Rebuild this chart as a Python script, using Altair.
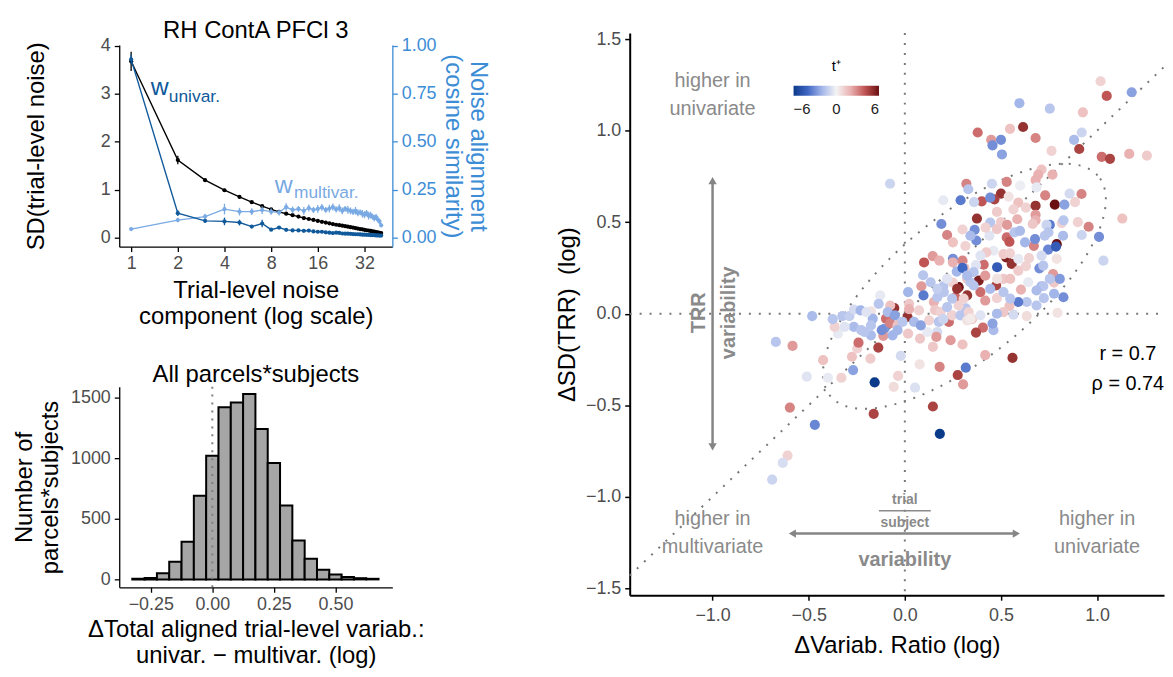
import altair as alt
import numpy as np
import pandas as pd

FONT = "Liberation Sans"
TICK_GRAY = "#4d4d4d"
ANN_GRAY = "#8a8a8a"
ARROW_GRAY = "#858585"
DARK_BLUE = "#10599b"
LIGHT_BLUE = "#7aaae3"
AXIS_BLUE = "#3d8dd6"

# ---------------- top-left panel: noise components ----------------
top_title = "RH ContA PFCl 3"
components = list(range(1, 42))
sd_noise = [3.68, 1.62, 1.20, 0.99, 0.85, 0.74, 0.66, 0.59, 0.54, 0.50,
            0.47, 0.44, 0.41, 0.39, 0.37, 0.35, 0.33, 0.315, 0.30, 0.285,
            0.27, 0.26, 0.25, 0.24, 0.23, 0.22, 0.21, 0.20, 0.19, 0.18,
            0.175, 0.165, 0.155, 0.15, 0.14, 0.13, 0.125, 0.115, 0.11, 0.10,
            0.095]
sd_noise_err = [0.20, 0.09, 0.03, 0.03, 0.025, 0.02, 0.02, 0.02, 0.015, 0.015,
                0.015, 0.012, 0.012, 0.012, 0.012, 0.012, 0.01, 0.01, 0.01, 0.01,
                0.01, 0.01, 0.01, 0.01, 0.01, 0.01, 0.01, 0.01, 0.01, 0.01,
                0.01, 0.01, 0.01, 0.01, 0.01, 0.01, 0.01, 0.01, 0.01, 0.01,
                0.01]
cos_univar = [0.93, 0.128, 0.088, 0.085, 0.079, 0.058, 0.074, 0.042, 0.053, 0.041,
              0.038, 0.038, 0.036, 0.037, 0.033, 0.031, 0.031, 0.028, 0.026, 0.024,
              0.026, 0.025, 0.022, 0.021, 0.021, 0.020, 0.019, 0.018, 0.018, 0.017,
              0.016, 0.016, 0.015, 0.015, 0.014, 0.014, 0.013, 0.012, 0.012, 0.011,
              0.011]
cos_univar_err = [0.025, 0.015, 0.010, 0.020, 0.015, 0.008, 0.020, 0.006, 0.008, 0.005,
                  0.005, 0.005, 0.005, 0.005, 0.005, 0.005, 0.004, 0.004, 0.004, 0.004,
                  0.004, 0.004, 0.004, 0.004, 0.004, 0.004, 0.004, 0.004, 0.004, 0.004,
                  0.004, 0.004, 0.004, 0.004, 0.004, 0.004, 0.004, 0.004, 0.004, 0.004,
                  0.004]
cos_multivar = [0.045, 0.092, 0.110, 0.149, 0.136, 0.136, 0.144, 0.136, 0.131, 0.160,
                0.145, 0.150, 0.140, 0.155, 0.145, 0.150, 0.158, 0.145, 0.152, 0.160,
                0.148, 0.155, 0.140, 0.150, 0.145, 0.140, 0.135, 0.140, 0.130, 0.132,
                0.125, 0.120, 0.128, 0.115, 0.118, 0.110, 0.102, 0.108, 0.095, 0.085,
                0.065]
cos_multivar_err = [0.004, 0.012, 0.015, 0.028, 0.020, 0.018, 0.020, 0.016, 0.015, 0.020,
                    0.018, 0.015, 0.020, 0.018, 0.016, 0.020, 0.018, 0.015, 0.020, 0.018,
                    0.016, 0.020, 0.018, 0.015, 0.020, 0.018, 0.016, 0.020, 0.018, 0.015,
                    0.020, 0.018, 0.016, 0.020, 0.018, 0.015, 0.018, 0.016, 0.015, 0.014,
                    0.012]

w_big_text = ["w", "w"]
w_big_k = [1.53, 9.65]
w_big_v = [2.98, 0.94]
w_big_series = ["univar", "multivar"]
w_sub_text = ["univar.", "multivar."]
w_sub_k = [1.75, 11.23]
w_sub_v = [2.84, 0.835]
w_sub_series = ["univar", "multivar"]

# ---------------- bottom-left panel: histogram ----------------
hist_title = "All parcels*subjects"
hist_center = [-0.30, -0.25, -0.20, -0.15, -0.10, -0.05, 0.00, 0.05, 0.10, 0.15,
               0.20, 0.25, 0.30, 0.35, 0.40, 0.45, 0.50, 0.55, 0.60, 0.65]
hist_count = [5, 12, 50, 145, 310, 690, 1020, 1420, 1460, 1530,
              1240, 960, 610, 320, 170, 80, 40, 20, 10, 5]
bin_width = 0.05

# ---------------- right panel: scatter ----------------
sx = [-0.077, 0.20, 0.29, 0.32, 0.33, 0.19, 0.22, 0.30, 0.25, 0.315,
      0.10, 0.145, 0.18, 0.25, 0.25, 0.30, 0.31, 0.27, 0.095, 0.086,
      0.28, 0.25, 0.20,
      0.596, 0.754, 1.018, 1.05, 1.18, 0.926, 0.379, 0.449, 0.456, 0.50,
      0.505, 0.547, 0.615, 0.68, 0.763, 0.92, 0.88, 0.907, 1.024, 1.067,
      1.167, 1.259, 1.131, 1.033, 1.01, 0.956, 0.90, 0.92, 0.857, 0.919,
      0.885, 0.711, 0.694, 0.68, 0.768, 0.53, 0.453, 0.60, 0.685, 0.50,
      0.466, 0.40, 0.444, 0.36, 0.54, 0.59, 0.63, 0.565, 0.73, 0.78,
      0.83, 0.68, 0.375, 0.479, 0.50, 0.585, 0.68, 0.68, 0.665, 0.754,
      0.737, 0.747, 0.816, 0.825, 0.532, 0.44, 0.363, 0.372, 0.53, 0.544,
      0.57, 0.671, 0.677, 0.745, 0.79, 0.786, 0.79, 0.646, 0.711, 0.527,
      0.556, 0.48, 0.513, 0.547, 0.461, 0.424, 0.41, 0.37, 0.30, 0.59,
      0.70, 0.642, 0.71, 0.771, 0.776, 0.806, 0.384, 0.475, 0.513, 0.418,
      0.604, 0.393,
      -0.482, -0.671, -0.584, -0.425, -0.51, -0.40, -0.33, -0.269, -0.275, -0.248,
      -0.179, -0.241, -0.138, -0.157, -0.021, -0.035, -0.058, 0.053, 0.077, 0.181,
      0.275, 0.303, 0.317, -0.162, 0.146, 0.182, -0.598, -0.468, -0.61, -0.635,
      -0.69, -0.348, -0.365, -0.375, -0.325, -0.288, -0.265, -0.227, -0.265, -0.23,
      -0.176, -0.128, -0.136, -0.167, -0.176, -0.21, -0.107, -0.112, -0.055, -0.076,
      -0.098, -0.076, -0.038, -0.038, -0.064, 0.014, 0.017, 0.097, 0.022, 0.022,
      0.074, 0.126, 0.079, 0.017, 0.117, 0.151, 0.157, 0.186, 0.169, 0.164,
      0.146, 0.229, 0.238, 0.30, 0.246, 0.22, 0.263, 0.272, 0.324, 0.289,
      0.324, 0.317, 0.28, 0.203, 0.169, -0.12,
      0.794, 0.825, 0.776, 0.72, 0.723, 0.685, 0.634, 0.59, 0.634, 0.565,
      0.544, 0.513, 0.479, 0.479, 0.418, 0.406, 0.37, 0.461, 0.456, 0.332,
      0.35, 0.418, 0.56,
      -0.089, -0.052, -0.012, 0.048, 0.083, 0.177, 0.20, 0.246, 0.306, 0.341,
      -0.176, -0.20, -0.313,
      0.324, 0.358, 0.393, 0.341, 0.444, 0.42, 0.479, 0.599, 0.625, 0.728,
      0.823, 0.72, 0.754, 0.548, 0.63, 0.59, 0.48,
      0.341, 0.134, 0.169, 0.324, 0.22,
      0.358, 0.444, 0.513, 0.548, 0.685, 0.393]
sy = [0.71, 0.62, 0.62, 0.71, 0.68, 0.49, 0.43, 0.46, 0.39, 0.37,
      0.28, 0.315, 0.29, 0.30, 0.28, 0.29, 0.25, 0.23, 0.21, 0.15,
      0.145, 0.17, 0.15,
      1.15, 1.12, 1.27, 1.19, 1.21, 1.10, 0.99, 0.95, 0.92, 0.95,
      0.87, 1.01, 1.02, 0.96, 0.89, 0.99, 0.95, 0.90, 0.857, 0.846,
      0.873, 0.864, 0.52, 0.29, 0.42, 0.475, 0.50, 0.43, 0.656, 0.654,
      0.61, 0.788, 0.76, 0.73, 0.76, 0.72, 0.71, 0.70, 0.69, 0.656,
      0.625, 0.614, 0.634, 0.61, 0.64, 0.607, 0.58, 0.57, 0.647, 0.596,
      0.596, 0.59, 0.52, 0.556, 0.50, 0.516, 0.54, 0.51, 0.49, 0.485,
      0.485, 0.444, 0.495, 0.51, 0.485, 0.426, 0.458, 0.40, 0.417, 0.393,
      0.444, 0.371, 0.408, 0.35, 0.38, 0.367, 0.30, 0.304, 0.317, 0.308,
      0.272, 0.254, 0.326, 0.33, 0.344, 0.335, 0.268, 0.265, 0.25, 0.235,
      0.248, 0.172, 0.15, 0.217, 0.17, 0.19, 0.181, 0.154, 0.19, 0.208,
      0.132, 0.118,
      -0.013, -0.154, -0.176, -0.254, -0.344, -0.35, -0.35, -0.308, -0.235, -0.19,
      -0.245, -0.158, -0.185, -0.375, -0.23, -0.34, -0.40, -0.404, -0.277, -0.29,
      -0.335, -0.386, -0.295, -0.547, -0.507, -0.656, -0.513, -0.607, -0.775, -0.815,
      -0.906, -0.109, -0.072, -0.03, -0.013, -0.013, -0.072, -0.09, 0.023, 0.018,
      0.013, 0.10, 0.054, -0.027, -0.118, -0.10, -0.082, -0.121, 0.031, 0.045,
      -0.027, -0.051, -0.063, -0.09, -0.118, -0.018, 0.118, 0.10, 0.054, 0.025,
      0.018, -0.036, -0.136, -0.109, -0.10, 0.064, 0.02, 0.009, -0.10, -0.127,
      -0.181, -0.045, -0.145, -0.168, -0.009, 0.036, 0.09, 0.136, 0.10, -0.009,
      -0.036, 0.03, 0.045, 0.118, 0.09, -0.09,
      0.005, 0.09, 0.109, 0.15, 0.085, 0.045, 0.064, 0.064, -0.013, -0.005,
      0.042, 0.009, 0.0, 0.085, 0.072, -0.076, -0.103, -0.09, -0.054, 0.009,
      -0.03, -0.226, -0.241,
      0.009, -0.009, -0.045, -0.045, -0.064, -0.045, -0.03, 0.082, 0.082, -0.027,
      -0.064, 0.009, -0.072,
      0.19, 0.227, 0.317, 0.426, 0.498, 0.47, 0.462, 0.453, 0.39, 0.426,
      0.426, 0.263, 0.19, 0.19, 0.26, 0.30, 0.19,
      0.172, 0.172, 0.136, 0.208, 0.19,
      0.154, 0.136, 0.118, 0.082, 0.127, -0.009]
st = [-1, -0.3, -3.5, 3, -1.5, -3, 3, 1, 1.5, 1,
      4, 2.5, 2, -3, 2, 3, 1.5, -2, -1.5, 2.5,
      6, 1, -1.5,
      -2, -1.5, 1, 4, -2.5, 1.5, 3.5, 2.5, -3, -3,
      -2.5, 1.5, 5, 3, 1, -1, -1.8, 4.5, 3.5, 4.5,
      2, 1.2, 1.5, -1, -3, 3, 1, -1, -0.8, 3,
      1, 1.5, 2, 2, 2, 3, -1, -0.2, -0.3, 5,
      4.5, 4, -3, -1, 0.5, 1.5, 1, 1, 3, 6,
      -2.5, 5, 5, 1.2, 1.2, 2, 2.5, 2, 1.3, -3.5,
      -1, -1.5, 1, -1.5, 2.5, -0.5, -3, -3, 3.5, 4,
      -1.5, 3, -3, -3.2, 6, -4.5, 0.5, 1, -0.8, 5.5,
      5, -4.5, 1.2, 1, -0.3, 1.2, 3.5, -0.5, -4, 1.2,
      -3, -0.3, -2, 2.5, 1.3, -2.7, 5.5, 4.5, 1.3, 2.5,
      2, 3.5,
      -1.8, -1.5, 2.5, 1.5, -0.5, -0.3, 1, -2.5, 1.5, 1,
      1.2, 3.5, 4.5, -6, -0.8, 1, 0.7, -0.6, 0.5, 3,
      4.5, 2.5, -3.5, 4.5, 4.5, -6, 3, -3.2, 1, -0.7,
      -1, -0.3, 1, -1.5, -1.5, -1.2, -1.8, -1.5, -0.8, -2,
      0.5, -0.3, -1.5, -2, -1.8, -1.5, -2.8, 2.5, 5, 1.5,
      3.5, 3, 1.5, -2, -2, 5, -2, -3.5, 1.3, 2,
      1, 1, 1.3, 1.3, -0.3, 2, 1.3, 1, -0.8, 2.5,
      1.3, 3.5, 2.5, 1.5, 1, -1.5, 3.5, 5, 5, -1.5,
      0.5, -1.5, 1, -1.5, -1.5, -3,
      0.5, -3, -2, -1.5, -1.5, -1.5, -1.5, -3.5, 0.7, -0.8,
      1.5, 1.3, -1.8, 1, 2.5, 3.5, 4.5, -1.8, -2.5, 1,
      1.2, 2, 5,
      -1.8, -2.5, -1.5, -1.8, -2.5, -1.5, -1.0, -1.5, 1.0, 0.3,
      -1.5, -0.5, -0.5,
      1.3, -1.5, -0.5, -1.8, -1.5, 1.0, 1.3, -1.8, -2.0, -1.5,
      -1.8, -1.5, -1.5, 1.5, 1.0, -0.3, 0.5,
      -1.5, -1.5, -1.2, -1.8, -0.5,
      -1.5, -1.8, -1.5, -1.5, -1.8, -0.5]

t_stops = [-6, -4, -2, 0, 2, 4, 6]
t_colors = ["#0a3a8a", "#3f67c4", "#a3b6ea", "#f4f4f4", "#e9b1b1", "#c05555", "#6b0f12"]

# confidence ellipse of the scatter
ell_center = [0.31, 0.15]
ell_axes = [0.92, 0.378]
ell_angle_deg = 41.2

# annotations (data coordinates)
gray_text = ["higher in", "univariate", "higher in", "multivariate", "higher in", "univariate"]
gray_x = [-1.0, -1.0, -1.0, -1.0, 1.0, 1.0]
gray_y = [1.272, 1.12, -1.12, -1.277, -1.12, -1.277]
stat_text = ["r = 0.7", "\u03c1 = 0.74"]
stat_x = [1.16, 1.16]
stat_y = [-0.223, -0.386]
frac_text = ["trial", "subject"]
frac_x = [0.0, 0.0]
frac_y = [-1.016, -1.141]
rot_text = ["TRR", "variability"]
rot_x = [-1.071, -0.912]
rot_y = [0.005, 0.005]
bottom_bold_text = ["variability"]
bottom_bold_x = [0.0]
bottom_bold_y = [-1.348]

v_arrow_x = -1.0
v_arrow_y = [-0.72, 0.72]
h_arrow_y = -1.201
h_arrow_x = [-0.58, 0.575]
head_x = [-1.0, -1.0, -0.585, 0.58]
head_y = [0.727, -0.727, -1.201, -1.201]
head_shape = ["triangle-up", "triangle-down", "triangle-left", "triangle-right"]
frac_line_x = [-0.135, 0.135]
frac_line_y = -1.076

# =================== build top-left chart ===================
TW, TH = 275, 203
xs_top = alt.Scale(type="log", base=2, domain=[0.838, 48.4], nice=False)
x_axis_top = alt.Axis(values=[1, 2, 4, 8, 16, 32], format="d",
                      title=["Trial-level noise", "component (log scale)"],
                      titleFontSize=24, titleFontWeight="normal", titleColor="black",
                      labelFontSize=18, labelColor=TICK_GRAY, labelPadding=3,
                      domainColor="black", domainWidth=1.3, tickColor="black",
                      tickWidth=1.3, tickSize=5, titlePadding=6, grid=False,
                      labelFlush=False)
ys_left = alt.Scale(domain=[-0.187, 4.02], nice=False, zero=False)
y_axis_left = alt.Axis(values=[0, 1, 2, 3, 4], title="SD(trial-level noise)",
                       titleFontSize=24, titleFontWeight="normal", titleColor="black",
                       labelFontSize=18, labelColor=TICK_GRAY, labelPadding=4,
                       domainColor="black", domainWidth=1.3, tickColor="black",
                       tickWidth=1.3, tickSize=5, titlePadding=52, grid=False)
ys_right = alt.Scale(domain=[-0.0466, 1.005], nice=False, zero=False)
y_axis_right = alt.Axis(orient="right", values=[0, 0.25, 0.5, 0.75, 1.0], format=".2f",
                        title=["Noise alignment", "(cosine similarity)"],
                        titleFontSize=24, titleFontWeight="normal", titleColor=AXIS_BLUE,
                        labelFontSize=18, labelColor=AXIS_BLUE, labelPadding=4,
                        domainColor=AXIS_BLUE, domainWidth=1.3, tickColor=AXIS_BLUE,
                        tickWidth=1.3, tickSize=5, titlePadding=4, grid=False)

df_sd = pd.DataFrame({"k": components, "v": sd_noise, "err": sd_noise_err})
df_sd["lo"] = df_sd["v"] - df_sd["err"]
df_sd["hi"] = df_sd["v"] + df_sd["err"]

xT = alt.X("k:Q", scale=xs_top, axis=x_axis_top)
base_sd = alt.Chart(df_sd)
sd_line = base_sd.mark_line(color="black", strokeWidth=1.4).encode(
    x=xT, y=alt.Y("v:Q", scale=ys_left, axis=y_axis_left))
sd_err_l = base_sd.mark_rule(color="black", strokeWidth=1.3).encode(
    x=xT, y=alt.Y("lo:Q", scale=ys_left, axis=y_axis_left), y2="hi:Q")
sd_pts = base_sd.mark_circle(color="black", size=18, opacity=1).encode(
    x=xT, y=alt.Y("v:Q", scale=ys_left, axis=y_axis_left))

ser_color = alt.Color("series:N", scale=alt.Scale(domain=["univar", "multivar"],
                                                   range=[DARK_BLUE, LIGHT_BLUE]), legend=None)
df_wb = pd.DataFrame({"k": w_big_k, "v": w_big_v, "txt": w_big_text, "series": w_big_series})
df_ws = pd.DataFrame({"k": w_sub_k, "v": w_sub_v, "txt": w_sub_text, "series": w_sub_series})
w_big = alt.Chart(df_wb).mark_text(fontSize=25, align="center", baseline="alphabetic").encode(
    x=xT, y=alt.Y("v:Q", scale=ys_left, axis=y_axis_left), text="txt:N", color=ser_color)
w_sub = alt.Chart(df_ws).mark_text(fontSize=17.5, align="left", baseline="alphabetic").encode(
    x=xT, y=alt.Y("v:Q", scale=ys_left, axis=y_axis_left), text="txt:N", color=ser_color)
top_title_mark = alt.Chart(pd.DataFrame({"t": [top_title]})).mark_text(
    fontSize=24, color="black", align="center", baseline="alphabetic").encode(
    x=alt.value(TW / 2), y=alt.value(-7), text="t:N")

black_group = alt.layer(sd_line, sd_err_l, sd_pts, w_big, w_sub, top_title_mark)


def cos_frame(vals, errs, name):
    d = pd.DataFrame({"k": components, "c": vals, "err": errs})
    d["lo"] = d["c"] - d["err"]
    d["hi"] = d["c"] + d["err"]
    d["series"] = name
    return d


blue_layers = []
for vals, errs, name in [(cos_multivar, cos_multivar_err, "multivar"),
                         (cos_univar, cos_univar_err, "univar")]:
    d = cos_frame(vals, errs, name)
    b = alt.Chart(d)
    blue_layers.append(b.mark_line(strokeWidth=1.4).encode(
        x=xT, y=alt.Y("c:Q", scale=ys_right, axis=y_axis_right), color=ser_color))
    blue_layers.append(b.mark_rule(strokeWidth=1.3).encode(
        x=xT, y=alt.Y("lo:Q", scale=ys_right, axis=y_axis_right), y2="hi:Q", color=ser_color))
    blue_layers.append(b.mark_circle(size=18, opacity=1).encode(
        x=xT, y=alt.Y("c:Q", scale=ys_right, axis=y_axis_right), color=ser_color))
blue_group = alt.layer(*blue_layers)

top = alt.layer(black_group, blue_group).resolve_scale(y="independent").properties(
    width=TW, height=TH)

# =================== histogram ===================
HW, HH = 275, 202
df_h = pd.DataFrame({"c": hist_center, "n": hist_count})
df_h["x0"] = df_h["c"] - bin_width / 2
df_h["x1"] = df_h["c"] + bin_width / 2
xs_h = alt.Scale(domain=[-0.378, 0.731], nice=False, zero=False)
ys_h = alt.Scale(domain=[-65, 1590], nice=False, zero=False)
x_axis_h = alt.Axis(values=[-0.25, 0, 0.25, 0.5], format=".2f",
                    title=["\u0394Total aligned trial-level variab.:", "univar. \u2212 multivar. (log)"],
                    titleFontSize=24, titleFontWeight="normal", titleColor="black",
                    labelFontSize=18, labelColor=TICK_GRAY, labelPadding=3,
                    domainColor="black", domainWidth=1.3, tickColor="black",
                    tickWidth=1.3, tickSize=5, titlePadding=5, grid=False)
y_axis_h = alt.Axis(values=[0, 500, 1000, 1500], format="d", title=["Number of", "parcels*subjects"],
                    titleFontSize=24, titleFontWeight="normal", titleColor="black",
                    labelFontSize=18, labelColor=TICK_GRAY, labelPadding=4,
                    domainColor="black", domainWidth=1.3, tickColor="black",
                    tickWidth=1.3, tickSize=5, titlePadding=8, grid=False)
bars = alt.Chart(df_h).mark_rect(fill="#a6a6a6", stroke="black", strokeWidth=2).encode(
    x=alt.X("x0:Q", scale=xs_h, axis=x_axis_h), x2="x1:Q",
    y=alt.Y("n:Q", scale=ys_h, axis=y_axis_h), y2=alt.datum(0))
vline_h = alt.Chart(pd.DataFrame({"x0": [0.0]})).mark_rule(
    color="#7f7f7f", strokeWidth=2, strokeDash=[2, 6]).encode(
    x=alt.X("x0:Q", scale=xs_h, axis=x_axis_h), y=alt.value(0), y2=alt.value(HH))
hist_title_mark = alt.Chart(pd.DataFrame({"t": [hist_title]})).mark_text(
    fontSize=24, color="black", align="center", baseline="alphabetic").encode(
    x=alt.value(HW / 2), y=alt.value(-5), text="t:N")
hist = alt.layer(bars, vline_h, hist_title_mark).properties(width=HW, height=HH)

# =================== scatter ===================
SW, SH = 538, 566
x_dom = [-1.431, 1.348]
y_dom = [-1.538, 1.533]
xs_s = alt.Scale(domain=x_dom, nice=False, zero=False)
ys_s = alt.Scale(domain=y_dom, nice=False, zero=False)
x_axis_s = alt.Axis(values=[-1, -0.5, 0, 0.5, 1], format=".1f", title="\u0394Variab. Ratio (log)",
                    titleFontSize=24, titleFontWeight="normal", titleColor="black",
                    labelFontSize=18, labelColor=TICK_GRAY, labelPadding=6,
                    domainColor="black", domainWidth=2, tickColor="black",
                    tickWidth=1.5, tickSize=5, titlePadding=10, grid=False)
y_axis_s = alt.Axis(values=[-1.5, -1, -0.5, 0, 0.5, 1, 1.5], format=".1f",
                    title="\u0394SD(TRR)\u00a0 (log)",
                    titleFontSize=24, titleFontWeight="normal", titleColor="black",
                    labelFontSize=18, labelColor=TICK_GRAY, labelPadding=4,
                    domainColor="black", domainWidth=2, tickColor="black",
                    tickWidth=1.5, tickSize=5, titlePadding=6, grid=False)


def X(f):
    return alt.X(f, scale=xs_s, axis=x_axis_s)


def Y(f):
    return alt.Y(f, scale=ys_s, axis=y_axis_s)


DOT = dict(color="#777777", strokeWidth=2, strokeDash=[2, 8])
hline0 = alt.Chart(pd.DataFrame({"y": [0.0]})).mark_rule(**DOT).encode(
    y=Y("y:Q"), x=alt.value(0), x2=alt.value(SW))
vline0 = alt.Chart(pd.DataFrame({"x": [0.0]})).mark_rule(**DOT).encode(
    x=X("x:Q"), y=alt.value(0), y2=alt.value(SH))
diag = alt.Chart(pd.DataFrame({"x": [x_dom[0]], "x2": [x_dom[1]]})).mark_rule(
    color="#777777", strokeWidth=2, strokeDash=[2, 8]).encode(
    x=X("x:Q"), y=Y("x:Q"), x2="x2:Q", y2="x2:Q")

th = np.linspace(0, 2 * np.pi, 241)
ang = np.deg2rad(ell_angle_deg)
ex = ell_center[0] + ell_axes[0] * np.cos(th) * np.cos(ang) - ell_axes[1] * np.sin(th) * np.sin(ang)
ey = ell_center[1] + ell_axes[0] * np.cos(th) * np.sin(ang) + ell_axes[1] * np.sin(th) * np.cos(ang)
df_ell = pd.DataFrame({"x": ex, "y": ey, "i": np.arange(len(th))})
ellipse = alt.Chart(df_ell).mark_line(color="#777777", strokeWidth=2, strokeDash=[2, 8]).encode(
    x=X("x:Q"), y=Y("y:Q"), order="i:Q")

df_pts = pd.DataFrame({"x": sx, "y": sy, "t": st})
pts = alt.Chart(df_pts).mark_circle(size=105, opacity=1).encode(
    x=X("x:Q"), y=Y("y:Q"),
    color=alt.Color("t:Q", scale=alt.Scale(domain=t_stops, range=t_colors, clamp=True),
                    legend=alt.Legend(orient="none", legendX=165, legendY=49,
                                      direction="horizontal", gradientLength=86,
                                      gradientThickness=10, title="t\u207a",
                                      titleFontSize=15, titleFontWeight="normal",
                                      titleColor="black", titleAnchor="middle",
                                      labelFontSize=15, labelColor="#222222",
                                      labelOffset=6,
                                      values=[-6, 0, 6], titlePadding=12,
                                      gradientStrokeWidth=0)))

v_arrow = alt.Chart(pd.DataFrame({"x": [v_arrow_x], "y": [v_arrow_y[0]], "y2": [v_arrow_y[1]]})).mark_rule(
    color=ARROW_GRAY, strokeWidth=2.5).encode(x=X("x:Q"), y=Y("y:Q"), y2="y2:Q")
h_arrow = alt.Chart(pd.DataFrame({"y": [h_arrow_y], "x": [h_arrow_x[0]], "x2": [h_arrow_x[1]]})).mark_rule(
    color=ARROW_GRAY, strokeWidth=2.5).encode(y=Y("y:Q"), x=X("x:Q"), x2="x2:Q")
heads = alt.Chart(pd.DataFrame({"x": head_x, "y": head_y, "s": head_shape})).mark_point(
    filled=True, size=70, color=ARROW_GRAY, opacity=1).encode(
    x=X("x:Q"), y=Y("y:Q"),
    shape=alt.Shape("s:N", scale=alt.Scale(domain=head_shape, range=head_shape), legend=None))
frac_line = alt.Chart(pd.DataFrame({"y": [frac_line_y], "x": [frac_line_x[0]], "x2": [frac_line_x[1]]})).mark_rule(
    color=ANN_GRAY, strokeWidth=1.5).encode(y=Y("y:Q"), x=X("x:Q"), x2="x2:Q")

t_gray = alt.Chart(pd.DataFrame({"x": gray_x, "y": gray_y, "t": gray_text})).mark_text(
    fontSize=20, color=ANN_GRAY, align="center", baseline="middle").encode(
    x=X("x:Q"), y=Y("y:Q"), text="t:N")
t_stat = alt.Chart(pd.DataFrame({"x": stat_x, "y": stat_y, "t": stat_text})).mark_text(
    fontSize=20, color="black", align="center", baseline="middle").encode(
    x=X("x:Q"), y=Y("y:Q"), text="t:N")
t_frac = alt.Chart(pd.DataFrame({"x": frac_x, "y": frac_y, "t": frac_text})).mark_text(
    fontSize=14, fontWeight="bold", color=ANN_GRAY, align="center", baseline="middle").encode(
    x=X("x:Q"), y=Y("y:Q"), text="t:N")
t_rot = alt.Chart(pd.DataFrame({"x": rot_x, "y": rot_y, "t": rot_text})).mark_text(
    fontSize=20, fontWeight="bold", color=ANN_GRAY, align="center", baseline="middle", angle=270).encode(
    x=X("x:Q"), y=Y("y:Q"), text="t:N")
t_bold = alt.Chart(pd.DataFrame({"x": bottom_bold_x, "y": bottom_bold_y, "t": bottom_bold_text})).mark_text(
    fontSize=20, fontWeight="bold", color=ANN_GRAY, align="center", baseline="middle").encode(
    x=X("x:Q"), y=Y("y:Q"), text="t:N")

scatter = alt.layer(hline0, vline0, diag, ellipse, pts, v_arrow, h_arrow, heads, frac_line,
                    t_gray, t_stat, t_frac, t_rot, t_bold).properties(width=SW, height=SH)


def spacer(h):
    return alt.Chart(pd.DataFrame({"a": [0]})).mark_rect(color="white", opacity=1).encode(
        x=alt.value(0), x2=alt.value(1), y=alt.value(0), y2=alt.value(h)
    ).properties(width=1, height=h)


left = alt.vconcat(alt.vconcat(spacer(9), top, spacing=0), hist, spacing=35)
right = alt.vconcat(spacer(20), scatter, spacing=0)
chart = alt.hconcat(left, right, spacing=65).properties(
    padding={"left": 4, "top": 0, "right": 0, "bottom": 0}
).configure(font=FONT).configure_view(stroke=None)

chart.save("out.html", embed_options={"renderer": "svg", "actions": False})
